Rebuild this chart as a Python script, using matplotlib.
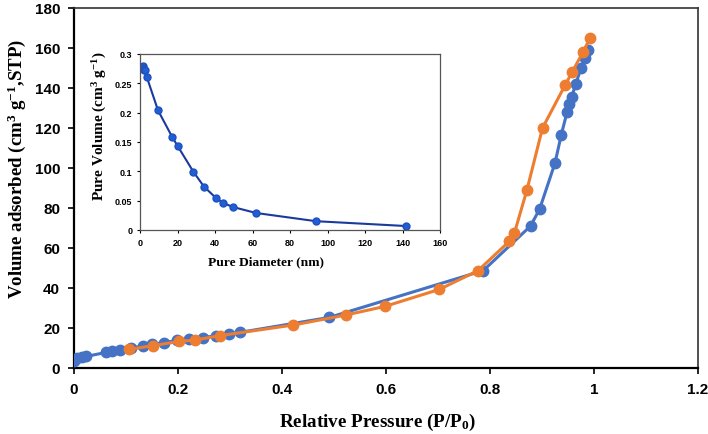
import matplotlib
matplotlib.use("Agg")
import matplotlib.pyplot as plt

# Adsorption (blue)
ads_p = [0.0, 0.006, 0.015, 0.024, 0.0615, 0.074, 0.088, 0.109, 0.133, 0.15, 0.173, 0.199,
         0.222, 0.249, 0.274, 0.299, 0.319, 0.491, 0.787, 0.878, 0.8955, 0.925, 0.937,
         0.948, 0.951, 0.957, 0.965, 0.975, 0.983, 0.989]
ads_v = [3.7, 4.8, 5.3, 5.8, 7.8, 8.5, 9.2, 10.2, 10.8, 11.8, 12.7, 13.8,
         14.5, 15.2, 16.2, 17.2, 17.8, 25.3, 48.7, 71.0, 79.5, 102.5, 116.5,
         127.8, 131.8, 135.5, 142.0, 150.0, 154.8, 159.0]
# Desorption (orange)
des_p = [0.106, 0.1526, 0.202, 0.233, 0.281, 0.422, 0.523, 0.598, 0.7025, 0.777,
         0.837, 0.847, 0.871, 0.901, 0.945, 0.958, 0.979, 0.992]
des_v = [9.3, 11.2, 13.3, 14.0, 16.2, 21.5, 26.5, 30.8, 39.3, 48.7,
         63.3, 67.5, 89.0, 120.0, 141.7, 148.0, 158.0, 164.8]
# Inset: pore size distribution
pore_d = [1.4, 1.8, 2.1, 2.7, 3.7, 9.6, 17.1, 20.1, 28.4, 34.1, 40.7, 44.3, 49.8, 61.9, 93.9, 141.7]
pore_v = [0.279, 0.276, 0.273, 0.272, 0.260, 0.204, 0.159, 0.143, 0.0996, 0.074, 0.054,
          0.046, 0.039, 0.029, 0.015, 0.0068]

main_xticks = [0, 0.2, 0.4, 0.6, 0.8, 1.0, 1.2]
main_xlabels = ["0", "0.2", "0.4", "0.6", "0.8", "1", "1.2"]
main_yticks = [0, 20, 40, 60, 80, 100, 120, 140, 160, 180]
in_xticks = [0, 20, 40, 60, 80, 100, 120, 140, 160]
in_yticks = [0, 0.05, 0.1, 0.15, 0.2, 0.25, 0.3]
in_ylabels = ["0", "0.05", "0.1", "0.15", "0.2", "0.25", "0.3"]

BLUE = "#4472C4"
ORANGE = "#ED7D31"
sans = "Liberation Sans"
serif = "Liberation Serif"

plt.rcParams["mathtext.fontset"] = "custom"
plt.rcParams["mathtext.bf"] = "Liberation Serif:bold"
plt.rcParams["mathtext.rm"] = "Liberation Serif:bold"
plt.rcParams["mathtext.it"] = "Liberation Serif:bold"

fig = plt.figure(figsize=(7.08, 4.35), dpi=100)
ax = fig.add_axes([74/708, 1-369/435, 624/708, 360/435])
ax.plot(ads_p, ads_v, color=BLUE, lw=2.2, marker="o", ms=7.5, zorder=3)
ax.plot(des_p, des_v, color=ORANGE, lw=2.2, marker="o", ms=7.5, zorder=4)
ax.set_xlim(0, 1.2)
ax.set_ylim(0, 180)
ax.set_xticks(main_xticks)
ax.set_xticklabels(main_xlabels)
ax.set_yticks(main_yticks)
for lab in ax.get_xticklabels() + ax.get_yticklabels():
    lab.set_fontfamily(sans)
    lab.set_fontweight("bold")
    lab.set_fontsize(11)
ax.tick_params(direction="out", length=4, width=1.2, pad=6)
for s in ["left", "bottom"]:
    ax.spines[s].set_linewidth(1.6)
    ax.spines[s].set_color("black")
for s in ["top", "right"]:
    ax.spines[s].set_linewidth(1.2)
    ax.spines[s].set_color("#333333")
ax.set_xlabel("Relative Pressure (P/P$_\\mathbf{0}$)", fontfamily=serif, fontweight="bold",
              fontsize=13.8)
ax.xaxis.set_label_coords(0.486, -0.12)
ax.set_ylabel("Volume adsorbed (cm$^\\mathbf{3}$ g$^\\mathbf{-1}$,STP)", fontfamily=serif,
              fontweight="bold", fontsize=13.6)
ax.yaxis.set_label_coords(-0.074, 0.556)

ins = fig.add_axes([140/708, 1-231/435, 300/708, 176/435])
ins.plot(pore_d, pore_v, color="#1A3A9C", lw=1.5, marker="o", ms=5,
         markerfacecolor="#1F5FD6", markeredgecolor="#1F4FC0")
ins.set_xlim(0, 160)
ins.set_ylim(0, 0.3)
ins.set_xticks(in_xticks)
ins.set_yticks(in_yticks)
ins.set_yticklabels(in_ylabels)
for lab in ins.get_xticklabels() + ins.get_yticklabels():
    lab.set_fontfamily(sans)
    lab.set_fontweight("bold")
    lab.set_fontsize(6.5)
ins.tick_params(direction="out", length=2.5, width=0.8, pad=3)
for s in ins.spines.values():
    s.set_linewidth(0.9)
    s.set_color("#555555")
ins.set_xlabel("Pure Diameter (nm)", fontfamily=serif, fontweight="bold", fontsize=9.7)
ins.xaxis.set_label_coords(0.42, -0.145)
ins.set_ylabel("Pure Volume (cm$^\\mathbf{3}$ g$^\\mathbf{-1}$)", fontfamily=serif,
               fontweight="bold", fontsize=11)
ins.yaxis.set_label_coords(-0.103, 0.597)

fig.savefig("out.png", dpi=100)
